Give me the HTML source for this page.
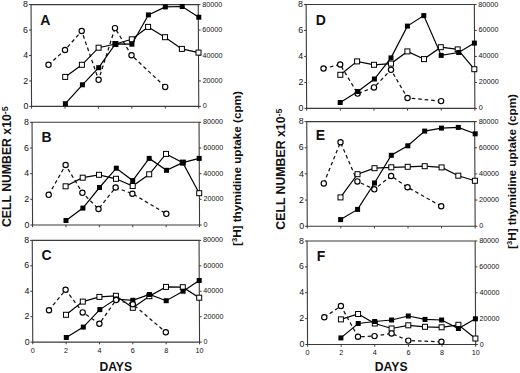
<!DOCTYPE html>
<html><head><meta charset="utf-8"><style>
html,body{margin:0;padding:0;background:#fff;}
svg{display:block;}
text{font-family:"Liberation Sans",sans-serif;fill:#111;}
.t{font-size:7.2px;}
.tl{font-size:8.8px;}
.pl{font-size:14px;font-weight:bold;}
.ax{font-size:12.2px;font-weight:bold;}
.cn{font-size:12.26px;font-weight:bold;}
.cn2{font-size:12.3px;font-weight:bold;}
.sup{font-size:8.8px;}
.th{font-size:11.7px;font-weight:bold;}
.sup2{font-size:7.6px;}
</style></head><body>
<svg width="520" height="373" viewBox="0 0 520 373">
<rect width="520" height="373" fill="#fff"/>
<path d="M31.05 4.6L198.25 4.6L198.75 106.4L31.55 106.4Z" fill="none" stroke="#3a3a3a" stroke-width="1.1"/>
<text class="tl" x="28.35" y="109" text-anchor="end">0</text>
<text class="t" x="202.75" y="108.4">0</text>
<text class="tl" x="28.23" y="83.55" text-anchor="end">2</text>
<text class="t" x="202.63" y="82.95">20000</text>
<text class="tl" x="28.1" y="58.1" text-anchor="end">4</text>
<text class="t" x="202.5" y="57.5">40000</text>
<text class="tl" x="27.97" y="32.65" text-anchor="end">6</text>
<text class="t" x="202.37" y="32.05">60000</text>
<text class="tl" x="27.85" y="7.2" text-anchor="end">8</text>
<text class="t" x="202.25" y="6.6">80000</text>
<path d="M29.35 106.4H31.55 M198.75 106.4H200.95 M29.23 80.95H31.43 M198.63 80.95H200.83 M29.1 55.5H31.3 M198.5 55.5H200.7 M28.97 30.05H31.17 M198.37 30.05H200.57 M28.85 4.6H31.05 M198.25 4.6H200.45 M31.55 106.4V108.6 M64.99 106.4V108.6 M98.43 106.4V108.6 M131.87 106.4V108.6 M165.31 106.4V108.6 M198.75 106.4V108.6" stroke="#3a3a3a" stroke-width="1" fill="none"/>
<text class="pl" x="40.3" y="24.6">A</text>
<path d="M48.5 64.8 L65 50 L81.7 31 L98.6 79.8 L115 28.1 L131.5 55.2 L165.2 86.9" fill="none" stroke="#111" stroke-width="1.25" stroke-dasharray="3.6 2.9"/>
<circle cx="48.5" cy="64.8" r="2.65" fill="#fff" stroke="#000" stroke-width="1.15"/>
<circle cx="65" cy="50" r="2.65" fill="#fff" stroke="#000" stroke-width="1.15"/>
<circle cx="81.7" cy="31" r="2.65" fill="#fff" stroke="#000" stroke-width="1.15"/>
<circle cx="98.6" cy="79.8" r="2.65" fill="#fff" stroke="#000" stroke-width="1.15"/>
<circle cx="115" cy="28.1" r="2.65" fill="#fff" stroke="#000" stroke-width="1.15"/>
<circle cx="131.5" cy="55.2" r="2.65" fill="#fff" stroke="#000" stroke-width="1.15"/>
<circle cx="165.2" cy="86.9" r="2.65" fill="#fff" stroke="#000" stroke-width="1.15"/>
<path d="M65.2 76.9 L81.9 64.8 L98.6 47.7 L115.4 44 L131.8 39.3 L148.1 26.9 L165 37.2 L181.9 48.9 L198.5 52.6" fill="none" stroke="#000" stroke-width="1.2"/>
<rect x="62.7" y="74.4" width="5" height="5" fill="#fff" stroke="#000" stroke-width="1.0"/>
<rect x="79.4" y="62.3" width="5" height="5" fill="#fff" stroke="#000" stroke-width="1.0"/>
<rect x="96.1" y="45.2" width="5" height="5" fill="#fff" stroke="#000" stroke-width="1.0"/>
<rect x="112.9" y="41.5" width="5" height="5" fill="#fff" stroke="#000" stroke-width="1.0"/>
<rect x="129.3" y="36.8" width="5" height="5" fill="#fff" stroke="#000" stroke-width="1.0"/>
<rect x="145.6" y="24.4" width="5" height="5" fill="#fff" stroke="#000" stroke-width="1.0"/>
<rect x="162.5" y="34.7" width="5" height="5" fill="#fff" stroke="#000" stroke-width="1.0"/>
<rect x="179.4" y="46.4" width="5" height="5" fill="#fff" stroke="#000" stroke-width="1.0"/>
<rect x="196" y="50.1" width="5" height="5" fill="#fff" stroke="#000" stroke-width="1.0"/>
<path d="M65.4 103.7 L82.4 84.8 L98.7 67.7 L115.4 43.8 L131.9 44.2 L148.4 14.9 L165.3 6.9 L182.2 6.5 L198.8 17.2" fill="none" stroke="#000" stroke-width="1.2"/>
<rect x="62.9" y="101.2" width="5" height="5" fill="#000"/>
<rect x="79.9" y="82.3" width="5" height="5" fill="#000"/>
<rect x="96.2" y="65.2" width="5" height="5" fill="#000"/>
<rect x="112.9" y="41.3" width="5" height="5" fill="#000"/>
<rect x="129.4" y="41.7" width="5" height="5" fill="#000"/>
<rect x="145.9" y="12.4" width="5" height="5" fill="#000"/>
<rect x="162.8" y="4.4" width="5" height="5" fill="#000"/>
<rect x="179.7" y="4" width="5" height="5" fill="#000"/>
<rect x="196.3" y="14.7" width="5" height="5" fill="#000"/>
<path d="M32.04 122.3L199.04 122.3L199.56 225L32.56 225Z" fill="none" stroke="#3a3a3a" stroke-width="1.1"/>
<text class="tl" x="29.36" y="227.6" text-anchor="end">0</text>
<text class="t" x="203.56" y="227">0</text>
<text class="tl" x="29.23" y="201.92" text-anchor="end">2</text>
<text class="t" x="203.43" y="201.32">20000</text>
<text class="tl" x="29.1" y="176.25" text-anchor="end">4</text>
<text class="t" x="203.3" y="175.65">40000</text>
<text class="tl" x="28.97" y="150.57" text-anchor="end">6</text>
<text class="t" x="203.17" y="149.97">60000</text>
<text class="tl" x="28.84" y="124.9" text-anchor="end">8</text>
<text class="t" x="203.04" y="124.3">80000</text>
<path d="M30.36 225H32.56 M199.56 225H201.76 M30.23 199.32H32.43 M199.43 199.32H201.63 M30.1 173.65H32.3 M199.3 173.65H201.5 M29.97 147.97H32.17 M199.17 147.97H201.37 M29.84 122.3H32.04 M199.04 122.3H201.24 M32.56 225V227.2 M65.96 225V227.2 M99.36 225V227.2 M132.76 225V227.2 M166.16 225V227.2 M199.56 225V227.2" stroke="#3a3a3a" stroke-width="1" fill="none"/>
<text class="pl" x="41.6" y="141.5">B</text>
<path d="M48.7 194.8 L65.6 165 L82.4 192.8 L98.5 209 L115.6 187.5 L132.4 193.7 L166.3 213.8" fill="none" stroke="#111" stroke-width="1.25" stroke-dasharray="3.6 2.9"/>
<circle cx="48.7" cy="194.8" r="2.65" fill="#fff" stroke="#000" stroke-width="1.15"/>
<circle cx="65.6" cy="165" r="2.65" fill="#fff" stroke="#000" stroke-width="1.15"/>
<circle cx="82.4" cy="192.8" r="2.65" fill="#fff" stroke="#000" stroke-width="1.15"/>
<circle cx="98.5" cy="209" r="2.65" fill="#fff" stroke="#000" stroke-width="1.15"/>
<circle cx="115.6" cy="187.5" r="2.65" fill="#fff" stroke="#000" stroke-width="1.15"/>
<circle cx="132.4" cy="193.7" r="2.65" fill="#fff" stroke="#000" stroke-width="1.15"/>
<circle cx="166.3" cy="213.8" r="2.65" fill="#fff" stroke="#000" stroke-width="1.15"/>
<path d="M65.6 186.3 L82.7 177.7 L99 174.8 L116 178.8 L132.7 186 L149.2 174.3 L166 153.9 L182.8 162.6 L199.2 193.2" fill="none" stroke="#000" stroke-width="1.2"/>
<rect x="63.1" y="183.8" width="5" height="5" fill="#fff" stroke="#000" stroke-width="1.0"/>
<rect x="80.2" y="175.2" width="5" height="5" fill="#fff" stroke="#000" stroke-width="1.0"/>
<rect x="96.5" y="172.3" width="5" height="5" fill="#fff" stroke="#000" stroke-width="1.0"/>
<rect x="113.5" y="176.3" width="5" height="5" fill="#fff" stroke="#000" stroke-width="1.0"/>
<rect x="130.2" y="183.5" width="5" height="5" fill="#fff" stroke="#000" stroke-width="1.0"/>
<rect x="146.7" y="171.8" width="5" height="5" fill="#fff" stroke="#000" stroke-width="1.0"/>
<rect x="163.5" y="151.4" width="5" height="5" fill="#fff" stroke="#000" stroke-width="1.0"/>
<rect x="180.3" y="160.1" width="5" height="5" fill="#fff" stroke="#000" stroke-width="1.0"/>
<rect x="196.7" y="190.7" width="5" height="5" fill="#fff" stroke="#000" stroke-width="1.0"/>
<path d="M66 220.5 L82.9 208.1 L99.5 187.5 L116.3 168.2 L132.7 180.6 L149.2 158.4 L166.5 170.3 L182.8 162.6 L199.2 158.4" fill="none" stroke="#000" stroke-width="1.2"/>
<rect x="63.5" y="218" width="5" height="5" fill="#000"/>
<rect x="80.4" y="205.6" width="5" height="5" fill="#000"/>
<rect x="97" y="185" width="5" height="5" fill="#000"/>
<rect x="113.8" y="165.7" width="5" height="5" fill="#000"/>
<rect x="130.2" y="178.1" width="5" height="5" fill="#000"/>
<rect x="146.7" y="155.9" width="5" height="5" fill="#000"/>
<rect x="164" y="167.8" width="5" height="5" fill="#000"/>
<rect x="180.3" y="160.1" width="5" height="5" fill="#000"/>
<rect x="196.7" y="155.9" width="5" height="5" fill="#000"/>
<path d="M32.25 240.4L199.05 240.4L199.55 342.1L32.75 342.1Z" fill="none" stroke="#3a3a3a" stroke-width="1.1"/>
<text class="tl" x="29.55" y="344.7" text-anchor="end">0</text>
<text class="t" x="203.55" y="344.1">0</text>
<text class="tl" x="29.43" y="319.28" text-anchor="end">2</text>
<text class="t" x="203.43" y="318.68">20000</text>
<text class="tl" x="29.3" y="293.85" text-anchor="end">4</text>
<text class="t" x="203.3" y="293.25">40000</text>
<text class="tl" x="29.17" y="268.43" text-anchor="end">6</text>
<text class="t" x="203.17" y="267.83">60000</text>
<text class="tl" x="29.05" y="243" text-anchor="end">8</text>
<text class="t" x="203.05" y="242.4">80000</text>
<path d="M30.55 342.1H32.75 M199.55 342.1H201.75 M30.43 316.68H32.63 M199.43 316.68H201.63 M30.3 291.25H32.5 M199.3 291.25H201.5 M30.17 265.83H32.37 M199.17 265.83H201.37 M30.05 240.4H32.25 M199.05 240.4H201.25 M32.75 342.1V344.3 M66.11 342.1V344.3 M99.47 342.1V344.3 M132.83 342.1V344.3 M166.19 342.1V344.3 M199.55 342.1V344.3" stroke="#3a3a3a" stroke-width="1" fill="none"/>
<text class="t" x="32.75" y="353.4" text-anchor="middle">0</text>
<text class="t" x="66.11" y="353.4" text-anchor="middle">2</text>
<text class="t" x="99.47" y="353.4" text-anchor="middle">4</text>
<text class="t" x="132.83" y="353.4" text-anchor="middle">6</text>
<text class="t" x="166.19" y="353.4" text-anchor="middle">8</text>
<text class="t" x="199.55" y="353.4" text-anchor="middle">10</text>
<text class="pl" x="41.6" y="259.8">C</text>
<path d="M66 314.8 L82.8 301.6 L99.4 296.9 L115.9 295.8 L132.8 307.8 L149.4 296.2 L166 286.9 L182.8 287.2 L199.2 297.7" fill="none" stroke="#000" stroke-width="1.2"/>
<rect x="63.5" y="312.3" width="5" height="5" fill="#fff" stroke="#000" stroke-width="1.0"/>
<rect x="80.3" y="299.1" width="5" height="5" fill="#fff" stroke="#000" stroke-width="1.0"/>
<rect x="96.9" y="294.4" width="5" height="5" fill="#fff" stroke="#000" stroke-width="1.0"/>
<rect x="113.4" y="293.3" width="5" height="5" fill="#fff" stroke="#000" stroke-width="1.0"/>
<rect x="130.3" y="305.3" width="5" height="5" fill="#fff" stroke="#000" stroke-width="1.0"/>
<rect x="146.9" y="293.7" width="5" height="5" fill="#fff" stroke="#000" stroke-width="1.0"/>
<rect x="163.5" y="284.4" width="5" height="5" fill="#fff" stroke="#000" stroke-width="1.0"/>
<rect x="180.3" y="284.7" width="5" height="5" fill="#fff" stroke="#000" stroke-width="1.0"/>
<rect x="196.7" y="295.2" width="5" height="5" fill="#fff" stroke="#000" stroke-width="1.0"/>
<path d="M66.3 337.5 L83.3 327.1 L99.8 309.6 L116 299 L132.8 300.3 L149.4 294.5 L166.2 300.7 L183.1 291.2 L199.2 280.5" fill="none" stroke="#000" stroke-width="1.2"/>
<rect x="63.8" y="335" width="5" height="5" fill="#000"/>
<rect x="80.8" y="324.6" width="5" height="5" fill="#000"/>
<rect x="97.3" y="307.1" width="5" height="5" fill="#000"/>
<rect x="113.5" y="296.5" width="5" height="5" fill="#000"/>
<rect x="130.3" y="297.8" width="5" height="5" fill="#000"/>
<rect x="146.9" y="292" width="5" height="5" fill="#000"/>
<rect x="163.7" y="298.2" width="5" height="5" fill="#000"/>
<rect x="180.6" y="288.7" width="5" height="5" fill="#000"/>
<rect x="196.7" y="278" width="5" height="5" fill="#000"/>
<path d="M49 310.2 L65.6 289.8 L82.7 312.4 L99.4 323.7 L116.1 300 L132.8 304.2 L165.8 332.2" fill="none" stroke="#111" stroke-width="1.25" stroke-dasharray="3.6 2.9"/>
<circle cx="49" cy="310.2" r="2.65" fill="#fff" stroke="#000" stroke-width="1.15"/>
<circle cx="65.6" cy="289.8" r="2.65" fill="#fff" stroke="#000" stroke-width="1.15"/>
<circle cx="82.7" cy="312.4" r="2.65" fill="#fff" stroke="#000" stroke-width="1.15"/>
<circle cx="99.4" cy="323.7" r="2.65" fill="#fff" stroke="#000" stroke-width="1.15"/>
<circle cx="116.1" cy="300" r="2.65" fill="#fff" stroke="#000" stroke-width="1.15"/>
<circle cx="132.8" cy="304.2" r="2.65" fill="#fff" stroke="#000" stroke-width="1.15"/>
<circle cx="165.8" cy="332.2" r="2.65" fill="#fff" stroke="#000" stroke-width="1.15"/>
<path d="M306.14 4.5L474.34 4.5L474.86 108.4L306.66 108.4Z" fill="none" stroke="#3a3a3a" stroke-width="1.1"/>
<text class="tl" x="303.46" y="111" text-anchor="end">0</text>
<text class="t" x="478.86" y="110.4">0</text>
<text class="tl" x="303.33" y="85.03" text-anchor="end">2</text>
<text class="t" x="478.73" y="84.43">20000</text>
<text class="tl" x="303.2" y="59.05" text-anchor="end">4</text>
<text class="t" x="478.6" y="58.45">40000</text>
<text class="tl" x="303.07" y="33.07" text-anchor="end">6</text>
<text class="t" x="478.47" y="32.47">60000</text>
<text class="tl" x="302.94" y="7.1" text-anchor="end">8</text>
<text class="t" x="478.34" y="6.5">80000</text>
<path d="M304.46 108.4H306.66 M474.86 108.4H477.06 M304.33 82.43H306.53 M474.73 82.43H476.93 M304.2 56.45H306.4 M474.6 56.45H476.8 M304.07 30.47H306.27 M474.47 30.47H476.67 M303.94 4.5H306.14 M474.34 4.5H476.54 M306.66 108.4V110.6 M340.3 108.4V110.6 M373.94 108.4V110.6 M407.58 108.4V110.6 M441.22 108.4V110.6 M474.86 108.4V110.6" stroke="#3a3a3a" stroke-width="1" fill="none"/>
<text class="pl" x="315.8" y="24.7">D</text>
<path d="M323.5 68.5 L340.2 64.5 L357.6 93.6 L374 87.4 L391 69.8 L407.5 98 L441.1 101.1" fill="none" stroke="#111" stroke-width="1.25" stroke-dasharray="3.6 2.9"/>
<circle cx="323.5" cy="68.5" r="2.65" fill="#fff" stroke="#000" stroke-width="1.15"/>
<circle cx="340.2" cy="64.5" r="2.65" fill="#fff" stroke="#000" stroke-width="1.15"/>
<circle cx="357.6" cy="93.6" r="2.65" fill="#fff" stroke="#000" stroke-width="1.15"/>
<circle cx="374" cy="87.4" r="2.65" fill="#fff" stroke="#000" stroke-width="1.15"/>
<circle cx="391" cy="69.8" r="2.65" fill="#fff" stroke="#000" stroke-width="1.15"/>
<circle cx="407.5" cy="98" r="2.65" fill="#fff" stroke="#000" stroke-width="1.15"/>
<circle cx="441.1" cy="101.1" r="2.65" fill="#fff" stroke="#000" stroke-width="1.15"/>
<path d="M340.3 74.8 L357.1 61.4 L374 64.8 L391 63.6 L407.4 51.4 L424 59.1 L440.8 47.2 L457.7 49.4 L474.3 69.2" fill="none" stroke="#000" stroke-width="1.2"/>
<rect x="337.8" y="72.3" width="5" height="5" fill="#fff" stroke="#000" stroke-width="1.0"/>
<rect x="354.6" y="58.9" width="5" height="5" fill="#fff" stroke="#000" stroke-width="1.0"/>
<rect x="371.5" y="62.3" width="5" height="5" fill="#fff" stroke="#000" stroke-width="1.0"/>
<rect x="388.5" y="61.1" width="5" height="5" fill="#fff" stroke="#000" stroke-width="1.0"/>
<rect x="404.9" y="48.9" width="5" height="5" fill="#fff" stroke="#000" stroke-width="1.0"/>
<rect x="421.5" y="56.6" width="5" height="5" fill="#fff" stroke="#000" stroke-width="1.0"/>
<rect x="438.3" y="44.7" width="5" height="5" fill="#fff" stroke="#000" stroke-width="1.0"/>
<rect x="455.2" y="46.9" width="5" height="5" fill="#fff" stroke="#000" stroke-width="1.0"/>
<rect x="471.8" y="66.7" width="5" height="5" fill="#fff" stroke="#000" stroke-width="1.0"/>
<path d="M340.2 102.5 L357.8 91.5 L374.4 79 L391 57.9 L407.4 26.1 L423.8 15.6 L441.2 55.4 L458.7 52.5 L474.4 43.1" fill="none" stroke="#000" stroke-width="1.2"/>
<rect x="337.7" y="100" width="5" height="5" fill="#000"/>
<rect x="355.3" y="89" width="5" height="5" fill="#000"/>
<rect x="371.9" y="76.5" width="5" height="5" fill="#000"/>
<rect x="388.5" y="55.4" width="5" height="5" fill="#000"/>
<rect x="404.9" y="23.6" width="5" height="5" fill="#000"/>
<rect x="421.3" y="13.1" width="5" height="5" fill="#000"/>
<rect x="438.7" y="52.9" width="5" height="5" fill="#000"/>
<rect x="456.2" y="50" width="5" height="5" fill="#000"/>
<rect x="471.9" y="40.6" width="5" height="5" fill="#000"/>
<path d="M306.74 121.6L474.64 121.6L475.16 226.2L307.26 226.2Z" fill="none" stroke="#3a3a3a" stroke-width="1.1"/>
<text class="tl" x="304.06" y="228.8" text-anchor="end">0</text>
<text class="t" x="479.16" y="228.2">0</text>
<text class="tl" x="303.93" y="202.65" text-anchor="end">2</text>
<text class="t" x="479.03" y="202.05">20000</text>
<text class="tl" x="303.8" y="176.5" text-anchor="end">4</text>
<text class="t" x="478.9" y="175.9">40000</text>
<text class="tl" x="303.67" y="150.35" text-anchor="end">6</text>
<text class="t" x="478.77" y="149.75">60000</text>
<text class="tl" x="303.54" y="124.2" text-anchor="end">8</text>
<text class="t" x="478.64" y="123.6">80000</text>
<path d="M305.06 226.2H307.26 M475.16 226.2H477.36 M304.93 200.05H307.13 M475.03 200.05H477.23 M304.8 173.9H307 M474.9 173.9H477.1 M304.67 147.75H306.87 M474.77 147.75H476.97 M304.54 121.6H306.74 M474.64 121.6H476.84 M307.26 226.2V228.4 M340.84 226.2V228.4 M374.42 226.2V228.4 M408 226.2V228.4 M441.58 226.2V228.4 M475.16 226.2V228.4" stroke="#3a3a3a" stroke-width="1" fill="none"/>
<text class="pl" x="315.8" y="140.2">E</text>
<path d="M323.8 183.4 L340.5 142.2 L357.4 181.4 L374.3 189.3 L391.1 176 L407.5 187.2 L441.2 206.2" fill="none" stroke="#111" stroke-width="1.25" stroke-dasharray="3.6 2.9"/>
<circle cx="323.8" cy="183.4" r="2.65" fill="#fff" stroke="#000" stroke-width="1.15"/>
<circle cx="340.5" cy="142.2" r="2.65" fill="#fff" stroke="#000" stroke-width="1.15"/>
<circle cx="357.4" cy="181.4" r="2.65" fill="#fff" stroke="#000" stroke-width="1.15"/>
<circle cx="374.3" cy="189.3" r="2.65" fill="#fff" stroke="#000" stroke-width="1.15"/>
<circle cx="391.1" cy="176" r="2.65" fill="#fff" stroke="#000" stroke-width="1.15"/>
<circle cx="407.5" cy="187.2" r="2.65" fill="#fff" stroke="#000" stroke-width="1.15"/>
<circle cx="441.2" cy="206.2" r="2.65" fill="#fff" stroke="#000" stroke-width="1.15"/>
<path d="M340.5 197.4 L357.5 174.2 L374.5 168.2 L391.3 167.3 L407.7 166.8 L424.7 166.2 L441.6 167.4 L458.3 175.7 L474.9 180.8" fill="none" stroke="#000" stroke-width="1.2"/>
<rect x="338" y="194.9" width="5" height="5" fill="#fff" stroke="#000" stroke-width="1.0"/>
<rect x="355" y="171.7" width="5" height="5" fill="#fff" stroke="#000" stroke-width="1.0"/>
<rect x="372" y="165.7" width="5" height="5" fill="#fff" stroke="#000" stroke-width="1.0"/>
<rect x="388.8" y="164.8" width="5" height="5" fill="#fff" stroke="#000" stroke-width="1.0"/>
<rect x="405.2" y="164.3" width="5" height="5" fill="#fff" stroke="#000" stroke-width="1.0"/>
<rect x="422.2" y="163.7" width="5" height="5" fill="#fff" stroke="#000" stroke-width="1.0"/>
<rect x="439.1" y="164.9" width="5" height="5" fill="#fff" stroke="#000" stroke-width="1.0"/>
<rect x="455.8" y="173.2" width="5" height="5" fill="#fff" stroke="#000" stroke-width="1.0"/>
<rect x="472.4" y="178.3" width="5" height="5" fill="#fff" stroke="#000" stroke-width="1.0"/>
<path d="M340.6 219.6 L357.6 209.4 L374.5 183 L391.3 155.3 L407.8 145.8 L424.7 131.1 L441.4 128.1 L458.3 127.4 L475.2 133.8" fill="none" stroke="#000" stroke-width="1.2"/>
<rect x="338.1" y="217.1" width="5" height="5" fill="#000"/>
<rect x="355.1" y="206.9" width="5" height="5" fill="#000"/>
<rect x="372" y="180.5" width="5" height="5" fill="#000"/>
<rect x="388.8" y="152.8" width="5" height="5" fill="#000"/>
<rect x="405.3" y="143.3" width="5" height="5" fill="#000"/>
<rect x="422.2" y="128.6" width="5" height="5" fill="#000"/>
<rect x="438.9" y="125.6" width="5" height="5" fill="#000"/>
<rect x="455.8" y="124.9" width="5" height="5" fill="#000"/>
<rect x="472.7" y="131.3" width="5" height="5" fill="#000"/>
<path d="M307.04 241L475.14 241L475.66 344.5L307.56 344.5Z" fill="none" stroke="#3a3a3a" stroke-width="1.1"/>
<text class="tl" x="304.36" y="347.1" text-anchor="end">0</text>
<text class="t" x="479.66" y="346.5">0</text>
<text class="tl" x="304.23" y="321.23" text-anchor="end">2</text>
<text class="t" x="479.53" y="320.62">20000</text>
<text class="tl" x="304.1" y="295.35" text-anchor="end">4</text>
<text class="t" x="479.4" y="294.75">40000</text>
<text class="tl" x="303.97" y="269.48" text-anchor="end">6</text>
<text class="t" x="479.27" y="268.88">60000</text>
<text class="tl" x="303.84" y="243.6" text-anchor="end">8</text>
<text class="t" x="479.14" y="243">80000</text>
<path d="M305.36 344.5H307.56 M475.66 344.5H477.86 M305.23 318.62H307.43 M475.53 318.62H477.73 M305.1 292.75H307.3 M475.4 292.75H477.6 M304.97 266.88H307.17 M475.27 266.88H477.47 M304.84 241H307.04 M475.14 241H477.34 M307.56 344.5V346.7 M341.18 344.5V346.7 M374.8 344.5V346.7 M408.42 344.5V346.7 M442.04 344.5V346.7 M475.66 344.5V346.7" stroke="#3a3a3a" stroke-width="1" fill="none"/>
<text class="t" x="307.56" y="354.5" text-anchor="middle">0</text>
<text class="t" x="341.18" y="354.5" text-anchor="middle">2</text>
<text class="t" x="374.8" y="354.5" text-anchor="middle">4</text>
<text class="t" x="408.42" y="354.5" text-anchor="middle">6</text>
<text class="t" x="442.04" y="354.5" text-anchor="middle">8</text>
<text class="t" x="475.66" y="354.5" text-anchor="middle">10</text>
<text class="pl" x="316.8" y="260.6">F</text>
<path d="M340.9 319.4 L358.1 314 L374.8 323.5 L391.6 328.5 L408.3 325.3 L425 326.8 L441.6 327.3 L458.4 324.8 L475.4 338.5" fill="none" stroke="#000" stroke-width="1.2"/>
<rect x="338.4" y="316.9" width="5" height="5" fill="#fff" stroke="#000" stroke-width="1.0"/>
<rect x="355.6" y="311.5" width="5" height="5" fill="#fff" stroke="#000" stroke-width="1.0"/>
<rect x="372.3" y="321" width="5" height="5" fill="#fff" stroke="#000" stroke-width="1.0"/>
<rect x="389.1" y="326" width="5" height="5" fill="#fff" stroke="#000" stroke-width="1.0"/>
<rect x="405.8" y="322.8" width="5" height="5" fill="#fff" stroke="#000" stroke-width="1.0"/>
<rect x="422.5" y="324.3" width="5" height="5" fill="#fff" stroke="#000" stroke-width="1.0"/>
<rect x="439.1" y="324.8" width="5" height="5" fill="#fff" stroke="#000" stroke-width="1.0"/>
<rect x="455.9" y="322.3" width="5" height="5" fill="#fff" stroke="#000" stroke-width="1.0"/>
<rect x="472.9" y="336" width="5" height="5" fill="#fff" stroke="#000" stroke-width="1.0"/>
<path d="M324.3 317.3 L340.9 306 L358 336.8 L374.5 336.1 L391.6 333.4 L408.3 340.6 L441.4 341.8" fill="none" stroke="#111" stroke-width="1.25" stroke-dasharray="3.6 2.9"/>
<circle cx="324.3" cy="317.3" r="2.65" fill="#fff" stroke="#000" stroke-width="1.15"/>
<circle cx="340.9" cy="306" r="2.65" fill="#fff" stroke="#000" stroke-width="1.15"/>
<circle cx="358" cy="336.8" r="2.65" fill="#fff" stroke="#000" stroke-width="1.15"/>
<circle cx="374.5" cy="336.1" r="2.65" fill="#fff" stroke="#000" stroke-width="1.15"/>
<circle cx="391.6" cy="333.4" r="2.65" fill="#fff" stroke="#000" stroke-width="1.15"/>
<circle cx="408.3" cy="340.6" r="2.65" fill="#fff" stroke="#000" stroke-width="1.15"/>
<circle cx="441.4" cy="341.8" r="2.65" fill="#fff" stroke="#000" stroke-width="1.15"/>
<path d="M340.9 337.9 L358.2 323.5 L374.7 321.5 L391.6 320 L408.3 316 L425 319.4 L441.6 320 L458.4 328.5 L475.4 318.8" fill="none" stroke="#000" stroke-width="1.2"/>
<rect x="338.4" y="335.4" width="5" height="5" fill="#000"/>
<rect x="355.7" y="321" width="5" height="5" fill="#000"/>
<rect x="372.2" y="319" width="5" height="5" fill="#000"/>
<rect x="389.1" y="317.5" width="5" height="5" fill="#000"/>
<rect x="405.8" y="313.5" width="5" height="5" fill="#000"/>
<rect x="422.5" y="316.9" width="5" height="5" fill="#000"/>
<rect x="439.1" y="317.5" width="5" height="5" fill="#000"/>
<rect x="455.9" y="326" width="5" height="5" fill="#000"/>
<rect x="472.9" y="316.3" width="5" height="5" fill="#000"/>
<text class="ax" x="99.4" y="371">DAYS</text>
<text class="ax" x="374.8" y="371.4">DAYS</text>
<text class="cn" transform="translate(11.0,227.0) rotate(-90)">CELL NUMBER x10<tspan class="sup" dy="-3.4">-5</tspan></text>
<text class="cn2" transform="translate(284.9,229.7) rotate(-90)">CELL NUMBER x10<tspan class="sup" dy="-3.4">-5</tspan></text>
<text class="th" transform="translate(240.7,246.0) rotate(-90)">[<tspan class="sup2" dy="-3.8">3</tspan><tspan dy="3.8">H] thymidine uptake (cpm)</tspan></text>
<text class="th" transform="translate(515.7,248.9) rotate(-90)">[<tspan class="sup2" dy="-3.8">3</tspan><tspan dy="3.8">H] thymidine uptake (cpm)</tspan></text>
</svg>
</body></html>
